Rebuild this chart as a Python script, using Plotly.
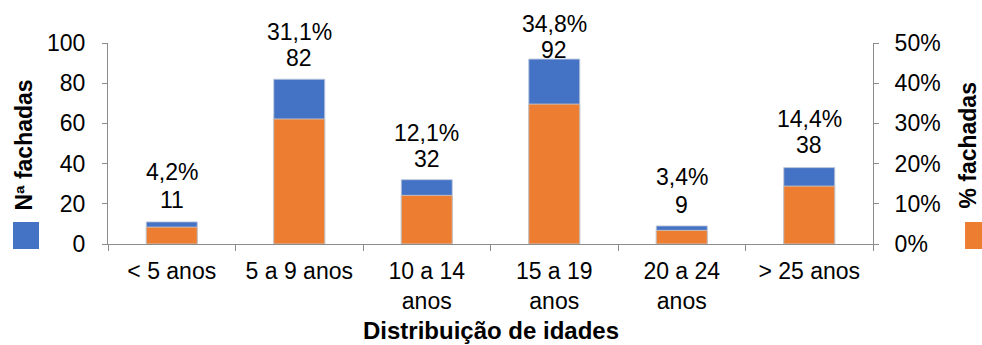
import plotly.graph_objects as go

# Age distribution of building facades
categories = ["< 5 anos", "5 a 9 anos", "10 a 14 anos", "15 a 19 anos", "20 a 24 anos", "> 25 anos"]
tick_labels = ["< 5 anos", "5 a 9 anos", "10 a 14<br>anos", "15 a 19<br>anos", "20 a 24<br>anos", "> 25 anos"]
counts = [11, 82, 32, 92, 9, 38]
percents = [4.2, 31.1, 12.1, 34.8, 3.4, 14.4]

# label placement (pixels above the bar top) for count and percentage labels
count_lift = [22, 21, 21, 9, 21, 23]
pct_gap = [28, 26, 26, 26, 28, 26]

BLUE = "#4472C4"
ORANGE = "#ED7D31"
AXIS = "#8C8C8C"
FONT = "Liberation Sans, Arial, sans-serif"
FS = 23

fig = go.Figure()
fig.add_trace(go.Bar(
    x=categories, y=counts, yaxis="y", width=0.4,
    marker=dict(color=BLUE, line=dict(color="rgba(190,200,220,0.9)", width=1)),
    name="Nª fachadas", showlegend=False,
))
fig.add_trace(go.Bar(
    x=categories, y=[p / 100 for p in percents], yaxis="y2", width=0.4,
    marker=dict(color=ORANGE, line=dict(color="rgba(200,200,200,0.9)", width=1)),
    name="% fachadas", showlegend=False,
))

annotations = []
for cat, c, p, lift, gap in zip(categories, counts, percents, count_lift, pct_gap):
    annotations.append(dict(x=cat, y=c, xref="x", yref="y", text=str(c), showarrow=False,
                            yanchor="middle", yshift=lift, font=dict(size=FS, color="#000")))
    annotations.append(dict(x=cat, y=c, xref="x", yref="y",
                            text=f"{p:.1f}".replace(".", ",") + "%", showarrow=False,
                            yanchor="middle", yshift=lift + gap, font=dict(size=FS, color="#000")))

annotations += [
    dict(x=0.5, y=-0.43, xref="paper", yref="paper", text="<b>Distribuição de idades</b>",
         showarrow=False, yanchor="middle", font=dict(size=24, color="#000")),
    dict(x=-0.111, y=0.49, xref="paper", yref="paper", text="<b>Nª fachadas</b>",
         textangle=-90, showarrow=False, xanchor="center", yanchor="middle",
         font=dict(size=FS, color="#000")),
    dict(x=1.123, y=0.49, xref="paper", yref="paper", text="<b>% fachadas</b>",
         textangle=-90, showarrow=False, xanchor="center", yanchor="middle",
         font=dict(size=FS, color="#000")),
]

shapes = [
    dict(type="rect", xref="paper", yref="paper", x0=-0.1242, x1=-0.0902, y0=-0.025, y1=0.1095,
         fillcolor=BLUE, line=dict(width=0)),
    dict(type="rect", xref="paper", yref="paper", x0=1.1203, x1=1.1542, y0=-0.025, y1=0.1095,
         fillcolor=ORANGE, line=dict(width=0)),
]

fig.update_layout(
    width=982, height=345,
    margin=dict(l=108, r=109, t=43, b=101),
    paper_bgcolor="white", plot_bgcolor="white",
    barmode="overlay",
    font=dict(family=FONT, size=FS, color="#000"),
    xaxis=dict(
        type="category", tickmode="array", tickvals=categories, ticktext=tick_labels,
        tickson="boundaries", ticks="outside", ticklen=6, tickcolor=AXIS,
        showline=True, linecolor=AXIS, linewidth=1, showgrid=False,
        tickfont=dict(size=FS, color="#000"), ticklabelstandoff=6,
    ),
    yaxis=dict(
        range=[0, 100], dtick=20, ticks="outside", ticklen=5, tickcolor=AXIS,
        showline=True, linecolor=AXIS, linewidth=1, showgrid=False, zeroline=False,
        tickfont=dict(size=FS, color="#000"), ticklabelstandoff=12,
    ),
    yaxis2=dict(
        range=[0, 0.5], dtick=0.1, tickformat=".0%", overlaying="y", side="right",
        ticks="outside", ticklen=5, tickcolor=AXIS,
        showline=True, linecolor=AXIS, linewidth=1, showgrid=False, zeroline=False,
        tickfont=dict(size=FS, color="#000"), ticklabelstandoff=11,
    ),
    annotations=annotations,
    shapes=shapes,
)

fig.write_html("out.html")
